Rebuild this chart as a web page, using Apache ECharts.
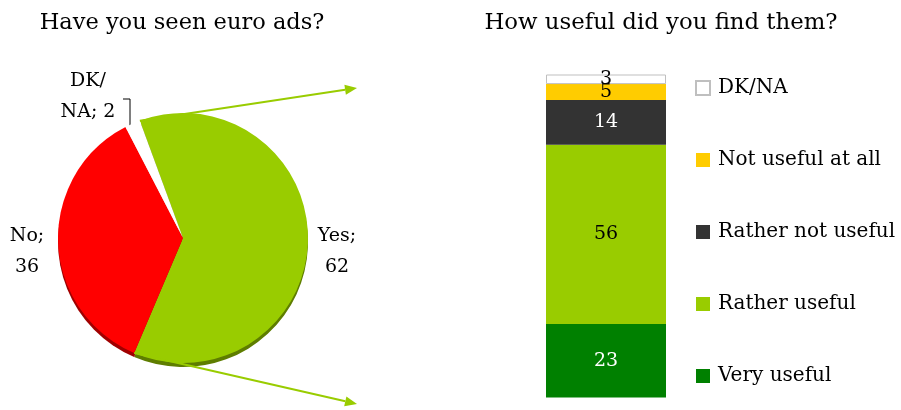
<!DOCTYPE html>
<html>
<head>
<meta charset="utf-8">
<script src="https://cdn.jsdelivr.net/npm/echarts@6/dist/echarts.min.js"></script>
<style>
  html, body { margin: 0; padding: 0; background: #fff; }
  #chart { width: 901px; height: 410px; }
</style>
</head>
<body>
<div id="chart"></div>
<script>
// Left: have you seen euro ads?
const seenNames = ['Yes', 'No', 'DK/NA'];
const seenValues = [62, 36, 2];
const seenColors = ['#99CC00', '#FF0000', '#FFFFFF'];
const seenEdge = ['#5E7D00', '#A00000', '#D0D0D0'];

// Right: how useful did you find them? (stacked bottom to top)
const usefulNames = ['Very useful', 'Rather useful', 'Rather not useful', 'Not useful at all', 'DK/NA'];
const usefulValues = [23, 56, 14, 5, 3];
const usefulColors = ['#008000', '#99CC00', '#333333', '#FFCC00', '#FFFFFF'];
const usefulLabelColors = ['#FFFFFF', '#000000', '#FFFFFF', '#000000', '#000000'];
const legendOrder = ['DK/NA', 'Not useful at all', 'Rather not useful', 'Rather useful', 'Very useful'];

const FONT = "'DejaVu Serif', Georgia, serif";
const pieCenter = [183, 238];
const pieRadius = 125;

// Pie starts where the "Yes" slice begins, going clockwise
const total = seenValues.reduce((a, b) => a + b, 0);
const startAngle = 90 + (seenValues[2] / total) * 360 + 13;

const chart = echarts.init(document.getElementById('chart'), null, { renderer: 'canvas' });

// Angles (degrees, counter-clockwise from +x) of the "Yes" slice boundaries
const yesStart = startAngle;
const yesEnd = startAngle - (seenValues[0] / total) * 360;
function rimPoint(deg) {
  const r = deg * Math.PI / 180;
  return [pieCenter[0] + pieRadius * Math.cos(r), pieCenter[1] - pieRadius * Math.sin(r)];
}
function arrow(from, to, color) {
  const ang = Math.atan2(to[1] - from[1], to[0] - from[0]);
  const len = 12, half = 5;
  const bx = to[0] - len * Math.cos(ang), by = to[1] - len * Math.sin(ang);
  const px = -Math.sin(ang) * half, py = Math.cos(ang) * half;
  return [
    { type: 'line', shape: { x1: from[0], y1: from[1], x2: bx, y2: by },
      style: { stroke: color, lineWidth: 2 }, z: 10 },
    { type: 'polygon', shape: { points: [[to[0], to[1]], [bx + px, by + py], [bx - px, by - py]] },
      style: { fill: color }, z: 10 }
  ];
}
const arrowColor = '#99CC00';
const graphics = [].concat(
  arrow(rimPoint(yesStart), [357, 88], arrowColor),
  arrow(rimPoint(yesEnd), [357, 404], arrowColor)
);

const pieData = seenNames.map((n, i) => ({ name: n, value: seenValues[i], itemStyle: { color: seenColors[i] } }));
const pieEdgeData = seenNames.map((n, i) => ({ name: n, value: seenValues[i], itemStyle: { color: seenEdge[i] } }));

const labelPos = {
  'Yes': { x: 337, y: 252 },
  'No': { x: 27, y: 252 },
  'DK/NA': { x: 88, y: 97 }
};

const barSeries = usefulNames.map((n, i) => ({
  name: n,
  type: 'bar',
  stack: 'useful',
  barWidth: 120,
  data: [usefulValues[i]],
  itemStyle: {
    color: usefulColors[i],
    borderColor: n === 'DK/NA' ? '#BFBFBF' : usefulColors[i],
    borderWidth: n === 'DK/NA' ? 1 : 0
  },
  label: {
    show: true,
    position: 'inside',
    color: usefulLabelColors[i],
    fontFamily: FONT,
    fontSize: 19,
    formatter: '{c}'
  },
  emphasis: { disabled: true },
  animation: false
}));

const option = {
  animation: false,
  title: [
    { text: 'Have you seen euro ads?', left: 177, top: 7, textAlign: 'center',
      textStyle: { fontFamily: FONT, fontWeight: 'normal', fontSize: 22.5, color: '#000' } },
    { text: 'How useful did you find them?', left: 656, top: 7, textAlign: 'center',
      textStyle: { fontFamily: FONT, fontWeight: 'normal', fontSize: 22.8, color: '#000' } }
  ],
  legend: {
    orient: 'vertical',
    left: 695,
    top: 78,
    padding: 0,
    itemGap: 52,
    itemWidth: 14,
    itemHeight: 14,
    icon: 'rect',
    data: legendOrder,
    selectedMode: false,
    textStyle: { fontFamily: FONT, fontSize: 20, color: '#000', lineHeight: 20, padding: [0, 0, 0, 3] }
  },
  grid: { left: 546, width: 120, top: 74.5, bottom: 12.5, containLabel: false },
  xAxis: { type: 'category', data: [''], show: false },
  yAxis: { type: 'value', min: 0, max: usefulValues.reduce((a, b) => a + b, 0), show: false },
  graphic: graphics,
  series: [
    {
      // darker rim giving the pie a slight depth
      type: 'pie',
      center: [pieCenter[0], pieCenter[1] + 4],
      radius: pieRadius,
      startAngle: startAngle,
      clockwise: true,
      data: pieEdgeData,
      label: { show: false },
      labelLine: { show: false },
      emphasis: { disabled: true },
      silent: true,
      z: 1
    },
    {
      type: 'pie',
      center: pieCenter,
      radius: pieRadius,
      startAngle: startAngle,
      clockwise: true,
      data: pieData,
      itemStyle: { borderWidth: 0 },
      emphasis: { disabled: true },
      label: {
        show: true,
        fontFamily: FONT,
        fontSize: 19,
        lineHeight: 31,
        color: '#000',
        align: 'center',
        overflow: 'none',
        formatter: p => p.name === 'DK/NA'
          ? 'DK/\nNA; ' + p.value
          : p.name + ';\n' + p.value
      },
      labelLine: { show: true, length: 10, length2: 10, lineStyle: { color: '#000', width: 1 } },
      labelLayout: p => {
        const name = seenNames[p.dataIndex];
        const pos = labelPos[name];
        const res = { x: pos.x, y: pos.y, align: 'center', verticalAlign: 'middle' };
        if (name === 'DK/NA') {
          res.labelLinePoints = [[130, 126], [130, 99], [123, 99]];
        } else {
          res.labelLinePoints = [[pos.x, pos.y], [pos.x, pos.y], [pos.x, pos.y]];
        }
        return res;
      },
      z: 2
    }
  ].concat(barSeries)
};
chart.setOption(option);
</script>
</body>
</html>
